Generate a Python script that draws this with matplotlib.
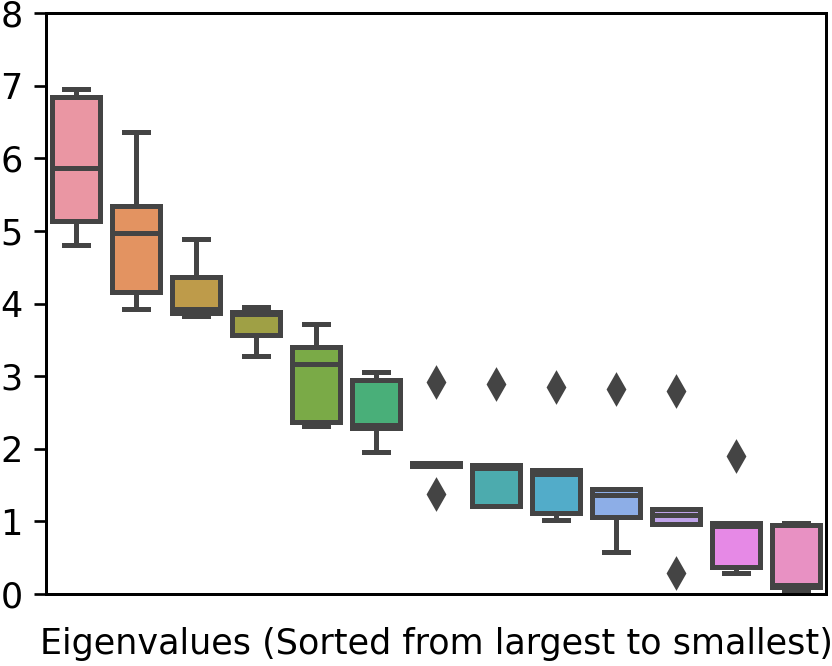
import numpy as np
import matplotlib.pyplot as plt
import seaborn as sns

# box statistics, one entry per eigenvalue rank
whislo = [4.81, 3.92, 3.83, 3.28, 2.31, 1.96, 1.76, 1.21, 1.02, 0.58, 0.96, 0.29, 0.03]
q1 = [5.13, 4.16, 3.87, 3.57, 2.37, 2.28, 1.76, 1.21, 1.12, 1.06, 0.96, 0.37, 0.10]
med = [5.87, 4.97, 3.93, 3.86, 3.17, 2.33, 1.78, 1.74, 1.65, 1.36, 1.09, 0.93, 0.13]
q3 = [6.85, 5.34, 4.37, 3.88, 3.40, 2.95, 1.81, 1.78, 1.71, 1.45, 1.17, 0.98, 0.95]
whishi = [6.96, 6.36, 4.89, 3.95, 3.72, 3.06, 1.81, 1.78, 1.71, 1.45, 1.17, 0.98, 0.98]
fliers = [[], [], [], [], [], [], [2.92, 1.38], [2.89], [2.85], [2.82], [2.80, 0.29], [1.90], []]

xlabel = "Eigenvalues (Sorted from largest to smallest)"

#%% colours like seaborn's default for many categories
pal = [sns.desaturate(c, 0.75) for c in sns.husl_palette(len(med), l=.7)]
gray = "#444444"

stats = []
for i in range(len(med)):
    stats.append(dict(whislo=whislo[i], q1=q1[i], med=med[i], q3=q3[i],
                      whishi=whishi[i], fliers=fliers[i]))

plt.rcParams['font.size'] = 10.5
plt.rcParams['axes.linewidth'] = 0.9

#%% plot
fig = plt.figure(figsize=(832/240, 666/240), dpi=240)
ax = fig.add_axes([46/832, 72/666, 780/832, 581/666])

bp = ax.bxp(stats, positions=np.arange(len(med)), widths=0.8, patch_artist=True,
            boxprops=dict(edgecolor=gray, linewidth=1.5),
            medianprops=dict(color=gray, linewidth=1.5),
            whiskerprops=dict(color=gray, linewidth=1.5),
            capprops=dict(color=gray, linewidth=1.5),
            flierprops=dict(marker="d", markerfacecolor=gray, markeredgecolor=gray,
                            markersize=6, linestyle="none"))
for patch, c in zip(bp["boxes"], pal):
    patch.set_facecolor(c)

ax.set_xlim(-0.5, len(med) - 0.5)
ax.set_ylim(0, 8)
ax.set_xticks([])
ax.set_xlabel(xlabel, labelpad=10)

fig.savefig("out.png", dpi=240)
